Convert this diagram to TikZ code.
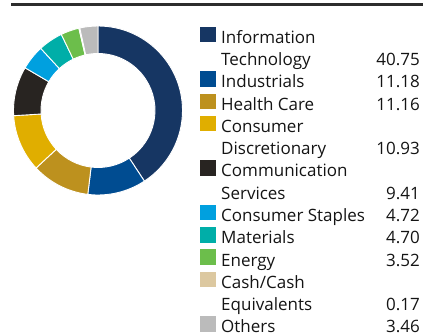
\documentclass[tikz,border=0pt]{standalone}
\usepackage{fontspec}
\setmainfont{Open Sans}
\definecolor{rulec}{RGB}{45,45,45}
\definecolor{itc}{RGB}{22,54,99}
\definecolor{indc}{RGB}{0,76,145}
\definecolor{hcc}{RGB}{189,145,30}
\definecolor{cdc}{RGB}{224,174,0}
\definecolor{comc}{RGB}{40,36,33}
\definecolor{csc}{RGB}{0,160,223}
\definecolor{matc}{RGB}{0,174,168}
\definecolor{enc}{RGB}{108,190,75}
\definecolor{cashc}{RGB}{220,200,160}
\definecolor{othc}{RGB}{187,187,187}
\definecolor{txtc}{RGB}{20,20,20}
\begin{document}
\begin{tikzpicture}[x=1pt,y=-1pt,
  lbl/.style={anchor=base west,inner sep=0pt,text=txtc,font=\fontsize{17}{20}\selectfont},
  val/.style={anchor=base east,inner sep=0pt,text=txtc,font=\fontsize{17}{20}\selectfont},
  swatch/.style={draw=none,inner sep=0pt,minimum width=16pt,minimum height=15.5pt,anchor=south west}]
\useasboundingbox (0,0) rectangle (423,334);
\draw[rulec,line width=2.6pt] (11,4.8) -- (423,4.8);
% donut
\begin{scope}[shift={(98,110.5)},y=1pt]
\foreach \p/\q/\c in {0/40.75/itc,40.75/51.93/indc,51.93/63.09/hcc,63.09/74.02/cdc,74.02/83.43/comc,83.43/88.15/csc,88.15/92.85/matc,92.85/96.37/enc,96.37/96.54/cashc,96.54/100/othc}{
  \pgfmathsetmacro{\aa}{90-3.6*\p}
  \pgfmathsetmacro{\bb}{90-3.6*\q}
  \filldraw[fill=\c,draw=white,line width=0.9pt,line join=miter]
    (\aa:84.5) arc[start angle=\aa,end angle=\bb,radius=84.5]
    -- (\bb:57) arc[start angle=\bb,end angle=\aa,radius=57] -- cycle;
}
\end{scope}
% legend
\foreach \i/\c/\n in {0/itc/s1,2/indc/s2,3/hcc/s3,4/cdc/s4,6/comc/s5,8/csc/s6,9/matc/s7,10/enc/s8,11/cashc/s9,13/othc/s10}{
  \node[swatch,fill=\c] (\n) at (200,{42.4+22.27*\i}) {};
}
\foreach \i/\t/\n in {0/Information/t0,1/Technology/t1,2/Industrials/t2,3/Health Care/t3,4/Consumer/t4,5/Discretionary/t5,6/Communication/t6,7/Services/t7,8/Consumer Staples/t8,9/Materials/t9,10/Energy/t10,11/Cash\slash Cash/t11,12/Equivalents/t12,13/Others/t13}{
  \node[lbl] (\n) at (221,{43.3+22.27*\i}) {\t};
}
\foreach \i/\t/\n in {1/40.75/v1,2/11.18/v2,3/11.16/v3,5/10.93/v5,7/9.41/v7,8/4.72/v8,9/4.70/v9,10/3.52/v10,12/0.17/v12,13/3.46/v13}{
  \node[val] (\n) at (420,{43.3+22.27*\i}) {\t};
}
\end{tikzpicture}
\end{document}
